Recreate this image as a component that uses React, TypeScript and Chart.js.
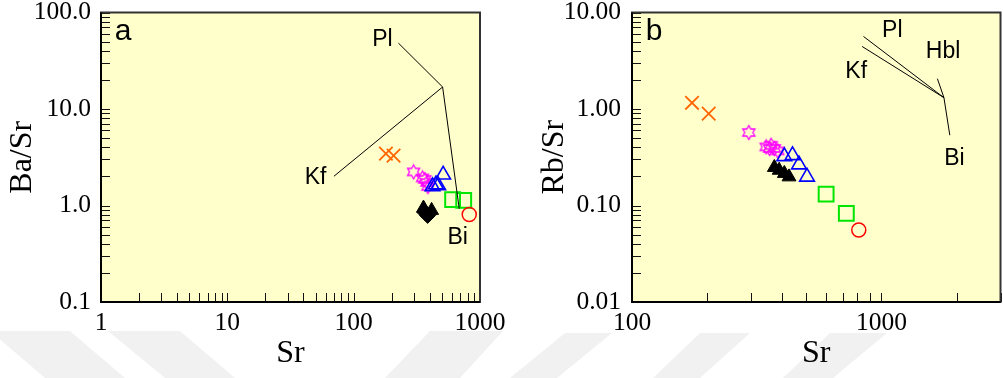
import React, { useEffect, useRef } from "react";
import { Chart, registerables } from "chart.js";

Chart.register(...registerables);

const SERIF = "'Liberation Serif', 'Times New Roman', serif";
const SANS = "'Liberation Sans', Arial, sans-serif";

// ---------------- Panel a : Ba/Sr vs Sr ----------------
const aCrossSr = [180, 207];
const aCrossRatio = [3.45, 3.29];
const aStarSr = [298, 351, 366, 380, 387];
const aStarRatio = [2.23, 1.93, 1.86, 1.73, 1.57];
const aTriSr = [511, 421, 448, 467];
const aTriRatio = [2.08, 1.58, 1.65, 1.61];
const aSquareSr = [607, 743];
const aSquareRatio = [1.15, 1.13];
const aCircleSr = [822];
const aCircleRatio = [0.807];
const aBlackTriSr = [357, 414];
const aBlackTriRatio = [0.94, 0.89];
const aBlackDiaSr = [366, 385];
const aBlackDiaRatio = [0.85, 0.79];

// mineral vectors (from common origin)
const aVecOrigin = [506, 16.9];
const aVecNames = ["Pl", "Kf", "Bi"];
const aVecEndSr = [226, 69.8, 685];
const aVecEndRatio = [48.2, 2.01, 0.925];
const aLabelSr = [169, 49.9, 665];
const aLabelRatio = [52, 1.93, 0.463];

const aXTicks = [1, 10, 100, 1000];
const aXLabels = ["1", "10", "100", "1000"];
const aYTicks = [0.1, 1, 10, 100];
const aYLabels = ["0.1", "1.0", "10.0", "100.0"];

// ---------------- Panel b : Rb/Sr vs Sr ----------------
const bCrossSr = [174, 203];
const bCrossRatio = [1.16, 0.896];
const bStarSr = [294, 345, 361, 356, 372, 384];
const bStarRatio = [0.57, 0.405, 0.421, 0.39, 0.39, 0.368];
const bTriSr = [408, 440, 467, 503];
const bTriRatio = [0.323, 0.331, 0.265, 0.198];
const bSquareSr = [600, 723];
const bSquareRatio = [0.131, 0.0828];
const bCircleSr = [811];
const bCircleRatio = [0.0557];
const bBlackSr = [372, 389, 408, 426];
const bBlackRatio = [0.248, 0.232, 0.215, 0.198];

const bVecOrigin = [1780, 1.31];
const bVecNames = ["Pl", "Kf", "Hbl", "Bi"];
const bVecEndSr = [847, 836, 1676, 1879];
const bVecEndRatio = [5.65, 4.45, 2.06, 0.535];
const bLabelSr = [1105, 792, 1765, 1962];
const bLabelRatio = [6.51, 2.41, 3.89, 0.307];

const bXTicks = [100, 1000];
const bXLabels = ["100", "1000"];
const bYTicks = [0.01, 0.1, 1, 10];
const bYLabels = ["0.01", "0.10", "1.00", "10.00"];

// faint background watermark bands (page coordinates)
const WATERMARK: number[][][] = [
  [[-10, 331], [70, 331], [125, 378], [45, 378]],
  [[108, 331], [180, 331], [235, 378], [165, 378]],
  [[430, 331], [503, 331], [460, 378], [385, 378]],
  [[565, 333], [612, 333], [557, 378], [510, 378]],
  [[700, 333], [750, 333], [700, 378], [653, 378]],
  [[830, 333], [887, 333], [833, 378], [783, 378]],
];

const ORANGE = "#ff6600";
const MAGENTA = "#ff00ff";
const BLUE = "#0000ff";
const GREEN = "#00e600";
const RED = "#ff0000";

function logTickMarks(min: number, max: number): number[] {
  const out: number[] = [];
  const e0 = Math.floor(Math.log10(min));
  const e1 = Math.ceil(Math.log10(max));
  for (let e = e0; e <= e1; e++) {
    for (let m = 1; m <= 9; m++) {
      const v = m * Math.pow(10, e);
      if (v >= min * 0.999 && v <= max * 1.001) out.push(v);
    }
  }
  return out;
}

function makeStar(color: string): HTMLCanvasElement {
  const c = document.createElement("canvas");
  c.width = 17;
  c.height = 17;
  const ctx = c.getContext("2d")!;
  const R = 7;
  const r = R / Math.sqrt(3);
  ctx.beginPath();
  for (let i = 0; i < 12; i++) {
    const ang = -Math.PI / 2 + (i * Math.PI) / 6;
    const rad = i % 2 === 0 ? R : r;
    const x = 8.5 + rad * Math.cos(ang);
    const y = 8.5 + rad * Math.sin(ang);
    if (i === 0) ctx.moveTo(x, y);
    else ctx.lineTo(x, y);
  }
  ctx.closePath();
  ctx.strokeStyle = color;
  ctx.lineWidth = 1.3;
  ctx.stroke();
  return c;
}

const pts = (xs: number[], ys: number[]) => xs.map((x, i) => ({ x, y: ys[i] }));

type PanelSpec = {
  offsetX: number;
  xMin: number;
  xMax: number;
  yMin: number;
  yMax: number;
  xTicks: number[];
  xLabels: string[];
  yTicks: number[];
  yLabels: string[];
  yTitle: string;
  yAxisWidth: number;
  padRight: number;
  yTitlePad: number;
  yTickPad: number;
  letter: string;
  vecOrigin: number[];
  vecEndX: number[];
  vecEndY: number[];
  labels: string[];
  labelX: number[];
  labelY: number[];
  datasets: any[];
};

function decoPlugin(p: PanelSpec) {
  const xMarks = logTickMarks(p.xMin, p.xMax);
  const yMarks = logTickMarks(p.yMin, p.yMax);
  return {
    id: "panelDeco",
    beforeDraw(chart: any) {
      const ctx = chart.ctx;
      ctx.save();
      ctx.fillStyle = "#f1f1f1";
      for (const poly of WATERMARK) {
        ctx.beginPath();
        poly.forEach(([x, y], i) => {
          if (i === 0) ctx.moveTo(x - p.offsetX, y);
          else ctx.lineTo(x - p.offsetX, y);
        });
        ctx.closePath();
        ctx.fill();
      }
      const a = chart.chartArea;
      ctx.fillStyle = "#ffffcc";
      ctx.fillRect(a.left, a.top, a.right - a.left, a.bottom - a.top);
      ctx.restore();
    },
    afterDatasetsDraw(chart: any) {
      const ctx = chart.ctx;
      const a = chart.chartArea;
      const xs = chart.scales.x;
      const ys = chart.scales.y;
      ctx.save();
      ctx.strokeStyle = "#111";
      ctx.lineWidth = 1;
      ctx.beginPath();
      for (const v of xMarks) {
        const px = Math.round(xs.getPixelForValue(v)) + 0.5;
        ctx.moveTo(px, a.bottom);
        ctx.lineTo(px, a.bottom - 9);
      }
      for (const v of yMarks) {
        const py = Math.round(ys.getPixelForValue(v)) + 0.5;
        ctx.moveTo(a.left, py);
        ctx.lineTo(a.left + 9, py);
      }
      ctx.stroke();
      // frame
      ctx.lineWidth = 2;
      ctx.strokeStyle = "#333";
      ctx.strokeRect(a.left, a.top, a.right - a.left, a.bottom - a.top);
      ctx.strokeStyle = "#000";
      ctx.beginPath();
      ctx.moveTo(a.left, a.top);
      ctx.lineTo(a.left, a.bottom);
      ctx.lineTo(a.right, a.bottom);
      ctx.stroke();
      // mineral labels
      ctx.fillStyle = "#000";
      ctx.font = `23px ${SANS}`;
      ctx.textAlign = "center";
      ctx.textBaseline = "middle";
      p.labels.forEach((t, i) => {
        ctx.fillText(t, xs.getPixelForValue(p.labelX[i]), ys.getPixelForValue(p.labelY[i]));
      });
      ctx.font = `30px ${SANS}`;
      ctx.fillText(p.letter, a.left + 22, a.top + 19);
      ctx.restore();
    },
  };
}

function buildConfig(p: PanelSpec): any {
  const vecSets = p.vecEndX.map((ex, i) => ({
    data: [
      { x: p.vecOrigin[0], y: p.vecOrigin[1] },
      { x: ex, y: p.vecEndY[i] },
    ],
    showLine: true,
    borderColor: "#000",
    borderWidth: 1,
    pointRadius: 0,
    fill: false,
  }));
  return {
    type: "scatter",
    data: { datasets: [...vecSets, ...p.datasets] },
    plugins: [decoPlugin(p)],
    options: {
      responsive: false,
      animation: false,
      devicePixelRatio: 1,
      events: [],
      layout: { padding: { left: 0, right: p.padRight, top: 12, bottom: 0 } },
      plugins: { legend: { display: false }, tooltip: { enabled: false } },
      scales: {
        x: {
          type: "logarithmic",
          position: "bottom",
          min: p.xMin,
          max: p.xMax,
          grid: { display: false, drawTicks: false },
          border: { display: false },
          afterBuildTicks: (s: any) => {
            s.ticks = p.xTicks.map((v) => ({ value: v }));
          },
          afterFit: (s: any) => {
            s.height = 76;
            s.paddingLeft = 0;
            s.paddingRight = 0;
          },
          ticks: {
            autoSkip: false,
            maxRotation: 0,
            minRotation: 0,
            padding: 6,
            color: "#000",
            font: { family: SERIF, size: 25.5 },
            callback: (_v: any, i: number) => p.xLabels[i],
          },
          title: {
            display: true,
            text: "Sr",
            color: "#000",
            font: { family: SERIF, size: 32 },
            padding: { top: 0, bottom: 5 },
          },
        },
        y: {
          type: "logarithmic",
          position: "left",
          min: p.yMin,
          max: p.yMax,
          grid: { display: false, drawTicks: false },
          border: { display: false },
          afterBuildTicks: (s: any) => {
            s.ticks = p.yTicks.map((v) => ({ value: v }));
          },
          afterFit: (s: any) => {
            s.width = p.yAxisWidth;
            s.paddingTop = 0;
            s.paddingBottom = 0;
          },
          ticks: {
            autoSkip: false,
            padding: p.yTickPad,
            color: "#000",
            font: { family: SERIF, size: 25.5 },
            callback: (_v: any, i: number) => p.yLabels[i],
          },
          title: {
            display: true,
            text: p.yTitle,
            color: "#000",
            font: { family: SERIF, size: 32 },
            padding: { top: p.yTitlePad, bottom: 0 },
          },
        },
      },
    },
  };
}

function seriesSets(
  star: HTMLCanvasElement,
  cross: number[][],
  stars: number[][],
  tris: number[][],
  squares: number[][],
  circles: number[][],
  blackTri: number[][],
  blackDia: number[][] | null
) {
  const sets: any[] = [
    {
      data: pts(cross[0], cross[1]),
      pointStyle: "crossRot",
      pointRadius: 9.5,
      borderColor: ORANGE,
      backgroundColor: ORANGE,
      pointBorderWidth: 1.8,
    },
    {
      data: pts(circles[0], circles[1]),
      pointStyle: "circle",
      pointRadius: 7,
      borderColor: RED,
      backgroundColor: "rgba(0,0,0,0)",
      pointBorderWidth: 1.5,
    },
    {
      data: pts(squares[0], squares[1]),
      pointStyle: "rect",
      pointRadius: 10.5,
      borderColor: GREEN,
      backgroundColor: "rgba(0,0,0,0)",
      pointBorderWidth: 2,
    },
    {
      data: pts(tris[0], tris[1]),
      pointStyle: "triangle",
      pointRadius: 8.5,
      borderColor: BLUE,
      backgroundColor: "rgba(0,0,0,0)",
      pointBorderWidth: 1.6,
    },
    {
      data: pts(stars[0], stars[1]),
      pointStyle: star,
      pointRadius: 7,
      borderColor: MAGENTA,
      backgroundColor: MAGENTA,
    },
    {
      data: pts(blackTri[0], blackTri[1]),
      pointStyle: "triangle",
      pointRadius: 8,
      borderColor: "#000",
      backgroundColor: "#000",
      pointBorderWidth: 1,
    },
  ];
  if (blackDia) {
    sets.push({
      data: pts(blackDia[0], blackDia[1]),
      pointStyle: "rectRot",
      pointRadius: 8,
      borderColor: "#000",
      backgroundColor: "#000",
      pointBorderWidth: 1,
    });
  }
  return sets;
}

export default function App() {
  const refA = useRef<HTMLCanvasElement>(null);
  const refB = useRef<HTMLCanvasElement>(null);

  useEffect(() => {
    const star = makeStar(MAGENTA);
    const specA: PanelSpec = {
      offsetX: 0,
      xMin: 1,
      xMax: 1000,
      yMin: 0.1,
      yMax: 100,
      xTicks: aXTicks,
      xLabels: aXLabels,
      yTicks: aYTicks,
      yLabels: aYLabels,
      yTitle: "Ba/Sr",
      yAxisWidth: 101,
      padRight: 40,
      yTitlePad: 3,
      yTickPad: 10,
      letter: "a",
      vecOrigin: aVecOrigin,
      vecEndX: aVecEndSr,
      vecEndY: aVecEndRatio,
      labels: aVecNames,
      labelX: aLabelSr,
      labelY: aLabelRatio,
      datasets: seriesSets(
        star,
        [aCrossSr, aCrossRatio],
        [aStarSr, aStarRatio],
        [aTriSr, aTriRatio],
        [aSquareSr, aSquareRatio],
        [aCircleSr, aCircleRatio],
        [aBlackTriSr, aBlackTriRatio],
        [aBlackDiaSr, aBlackDiaRatio]
      ),
    };
    const specB: PanelSpec = {
      offsetX: 503,
      xMin: 100,
      xMax: 3000,
      yMin: 0.01,
      yMax: 10,
      xTicks: bXTicks,
      xLabels: bXLabels,
      yTicks: bYTicks,
      yLabels: bYLabels,
      yTitle: "Rb/Sr",
      yAxisWidth: 129,
      padRight: 6,
      yTitlePad: 32,
      yTickPad: 11,
      letter: "b",
      vecOrigin: bVecOrigin,
      vecEndX: bVecEndSr,
      vecEndY: bVecEndRatio,
      labels: bVecNames,
      labelX: bLabelSr,
      labelY: bLabelRatio,
      datasets: seriesSets(
        star,
        [bCrossSr, bCrossRatio],
        [bStarSr, bStarRatio],
        [bTriSr, bTriRatio],
        [bSquareSr, bSquareRatio],
        [bCircleSr, bCircleRatio],
        [bBlackSr, bBlackRatio],
        null
      ),
    };
    const ca = new Chart(refA.current!, buildConfig(specA));
    const cb = new Chart(refB.current!, buildConfig(specB));
    return () => {
      ca.destroy();
      cb.destroy();
    };
  }, []);

  return (
    <div
      style={{
        position: "fixed",
        left: 0,
        top: 0,
        width: 1003,
        height: 378,
        overflow: "hidden",
        background: "#fff",
      }}
    >
      <canvas
        ref={refA}
        width={520}
        height={378}
        style={{ position: "absolute", left: 0, top: 0, width: 520, height: 378 }}
      />
      <canvas
        ref={refB}
        width={510}
        height={378}
        style={{ position: "absolute", left: 503, top: 0, width: 510, height: 378 }}
      />
    </div>
  );
}
